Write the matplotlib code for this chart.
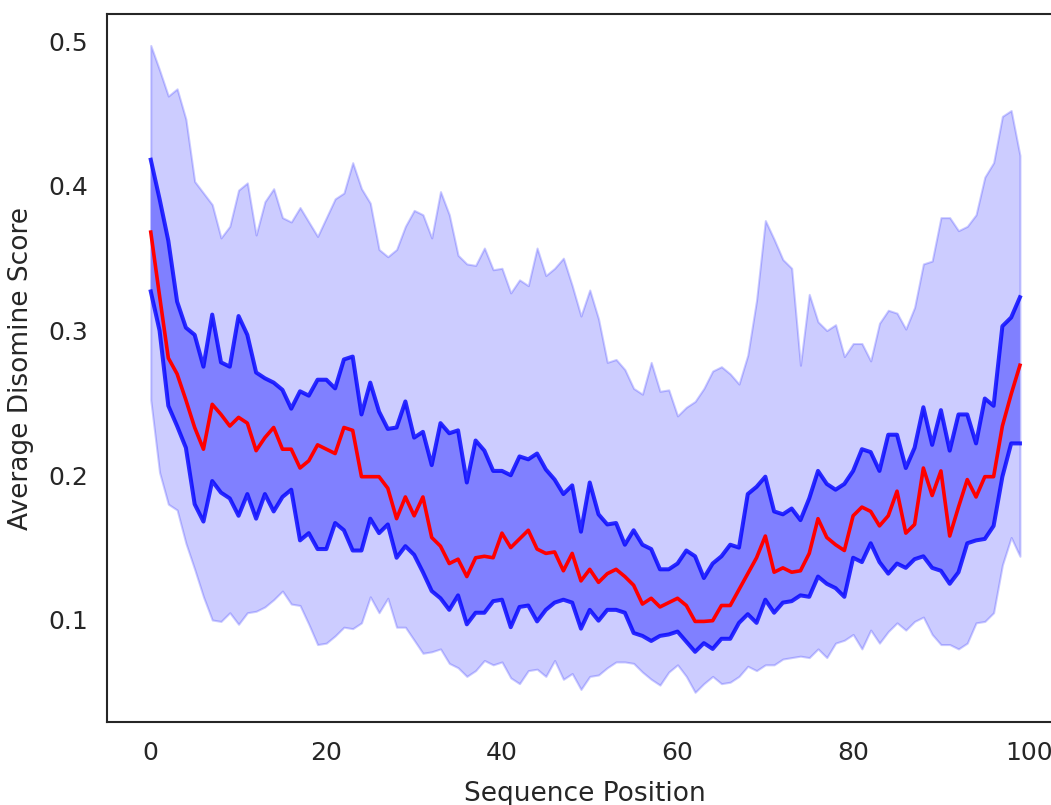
import numpy as np
import matplotlib
matplotlib.use('Agg')
import matplotlib.pyplot as plt

# Per-position statistics (positions 0..99).
positions = list(range(100))

outer_hi = [0.497, 0.480, 0.462, 0.467, 0.446, 0.403, 0.395, 0.387, 0.364, 0.372,
            0.397, 0.402, 0.366, 0.389, 0.398, 0.378, 0.375, 0.385, 0.375, 0.365,
            0.378, 0.391, 0.395, 0.416, 0.398, 0.388, 0.356, 0.351, 0.356, 0.372,
            0.383, 0.380, 0.364, 0.396, 0.380, 0.352, 0.346, 0.345, 0.357, 0.342,
            0.343, 0.326, 0.335, 0.331, 0.357, 0.338, 0.343, 0.350, 0.331, 0.310,
            0.328, 0.308, 0.278, 0.280, 0.273, 0.260, 0.256, 0.278, 0.258, 0.259,
            0.241, 0.247, 0.251, 0.260, 0.272, 0.275, 0.270, 0.263, 0.283, 0.321,
            0.376, 0.363, 0.349, 0.343, 0.276, 0.325, 0.306, 0.300, 0.304, 0.282,
            0.291, 0.291, 0.279, 0.305, 0.314, 0.312, 0.301, 0.316, 0.346, 0.348,
            0.378, 0.378, 0.369, 0.372, 0.380, 0.406, 0.416, 0.448, 0.452, 0.421]

inner_hi = [0.418, 0.391, 0.362, 0.320, 0.302, 0.297, 0.275, 0.311, 0.278, 0.275,
            0.310, 0.297, 0.271, 0.267, 0.264, 0.259, 0.246, 0.258, 0.255, 0.266,
            0.266, 0.260, 0.280, 0.282, 0.242, 0.264, 0.244, 0.232, 0.233, 0.251,
            0.226, 0.230, 0.207, 0.236, 0.229, 0.231, 0.195, 0.224, 0.217, 0.203,
            0.203, 0.200, 0.213, 0.211, 0.215, 0.204, 0.197, 0.187, 0.193, 0.161,
            0.195, 0.173, 0.166, 0.167, 0.152, 0.162, 0.152, 0.149, 0.135, 0.135,
            0.139, 0.148, 0.144, 0.129, 0.139, 0.144, 0.152, 0.150, 0.187, 0.192,
            0.199, 0.175, 0.173, 0.177, 0.169, 0.184, 0.203, 0.194, 0.190, 0.194,
            0.203, 0.218, 0.216, 0.203, 0.228, 0.228, 0.205, 0.219, 0.247, 0.221,
            0.245, 0.217, 0.242, 0.242, 0.222, 0.253, 0.248, 0.303, 0.309, 0.323]

mean_score = [0.368, 0.324, 0.281, 0.270, 0.252, 0.233, 0.218, 0.249, 0.242, 0.234,
              0.240, 0.236, 0.217, 0.226, 0.233, 0.218, 0.218, 0.205, 0.210, 0.221,
              0.218, 0.215, 0.233, 0.231, 0.199, 0.199, 0.199, 0.191, 0.170, 0.185,
              0.172, 0.185, 0.157, 0.151, 0.139, 0.142, 0.130, 0.143, 0.144, 0.143,
              0.160, 0.150, 0.156, 0.162, 0.149, 0.146, 0.147, 0.134, 0.146, 0.127,
              0.135, 0.126, 0.132, 0.135, 0.130, 0.124, 0.111, 0.115, 0.109, 0.112,
              0.115, 0.110, 0.099, 0.099, 0.0995, 0.110, 0.110, 0.121, 0.132, 0.143,
              0.158, 0.133, 0.136, 0.133, 0.134, 0.146, 0.170, 0.157, 0.152, 0.148,
              0.172, 0.178, 0.175, 0.165, 0.172, 0.189, 0.160, 0.166, 0.205, 0.186,
              0.203, 0.158, 0.178, 0.197, 0.185, 0.199, 0.199, 0.234, 0.256, 0.276]

inner_lo = [0.327, 0.300, 0.248, 0.234, 0.219, 0.180, 0.168, 0.196, 0.188, 0.184,
            0.172, 0.187, 0.170, 0.187, 0.175, 0.185, 0.190, 0.155, 0.160, 0.149,
            0.149, 0.167, 0.162, 0.148, 0.148, 0.170, 0.160, 0.166, 0.143, 0.151,
            0.145, 0.133, 0.120, 0.115, 0.107, 0.117, 0.097, 0.105, 0.105, 0.113,
            0.114, 0.095, 0.109, 0.110, 0.099, 0.107, 0.112, 0.114, 0.112, 0.094,
            0.107, 0.0995, 0.107, 0.107, 0.105, 0.091, 0.089, 0.0855, 0.089, 0.090,
            0.092, 0.085, 0.078, 0.084, 0.080, 0.087, 0.087, 0.098, 0.104, 0.098,
            0.114, 0.105, 0.112, 0.113, 0.117, 0.116, 0.130, 0.125, 0.122, 0.116,
            0.143, 0.140, 0.153, 0.140, 0.132, 0.139, 0.136, 0.142, 0.144, 0.136,
            0.134, 0.125, 0.133, 0.153, 0.155, 0.156, 0.165, 0.199, 0.222, 0.222]

outer_lo = [0.252, 0.202, 0.180, 0.176, 0.153, 0.135, 0.116, 0.100, 0.099, 0.105,
            0.097, 0.105, 0.106, 0.109, 0.114, 0.120, 0.111, 0.110, 0.097, 0.083,
            0.084, 0.089, 0.095, 0.094, 0.098, 0.116, 0.105, 0.115, 0.095, 0.095,
            0.086, 0.077, 0.078, 0.080, 0.070, 0.067, 0.061, 0.065, 0.072, 0.069,
            0.071, 0.060, 0.056, 0.065, 0.066, 0.061, 0.072, 0.059, 0.063, 0.052,
            0.061, 0.062, 0.067, 0.071, 0.071, 0.070, 0.064, 0.059, 0.055, 0.064,
            0.069, 0.061, 0.050, 0.056, 0.061, 0.056, 0.057, 0.061, 0.068, 0.065,
            0.069, 0.069, 0.073, 0.074, 0.075, 0.074, 0.080, 0.074, 0.084, 0.086,
            0.090, 0.080, 0.093, 0.084, 0.092, 0.098, 0.093, 0.099, 0.102, 0.090,
            0.083, 0.083, 0.080, 0.084, 0.098, 0.099, 0.105, 0.138, 0.157, 0.144]

text_col = '#262626'
plt.rcParams['font.family'] = 'DejaVu Sans'

fig = plt.figure(figsize=(10.51, 8.05), dpi=100)
# axes runs slightly past the right edge, as in the reference crop
ax = fig.add_axes([0.1021, 0.1031, 0.9097, 0.8795])

# outer band
ax.fill_between(positions, outer_lo, outer_hi, color='blue', alpha=0.2, lw=1.5)
# inner band
ax.fill_between(positions, inner_lo, inner_hi, facecolor='#8080ff', edgecolor='none')
ax.plot(positions, inner_hi, color='blue', alpha=0.8, lw=2.9)
ax.plot(positions, inner_lo, color='blue', alpha=0.8, lw=2.9)
# mean
ax.plot(positions, mean_score, color='red', lw=2.6)

ax.set_xlim(-4.95, 103.95)
ax.set_ylim(0.0295, 0.5187)
ax.set_xticks([0, 20, 40, 60, 80, 100])
ax.set_yticks([0.1, 0.2, 0.3, 0.4, 0.5])

ax.tick_params(length=0, labelsize=18, colors=text_col, pad=14)
ax.set_xlabel('Sequence Position', fontsize=19, color=text_col, labelpad=11)
ax.set_ylabel('Average Disomine Score', fontsize=19, color=text_col, labelpad=10)

for side in ['top', 'bottom', 'left', 'right']:
    ax.spines[side].set_color(text_col)
    ax.spines[side].set_linewidth(1.5)

fig.savefig('out.png', dpi=100)
